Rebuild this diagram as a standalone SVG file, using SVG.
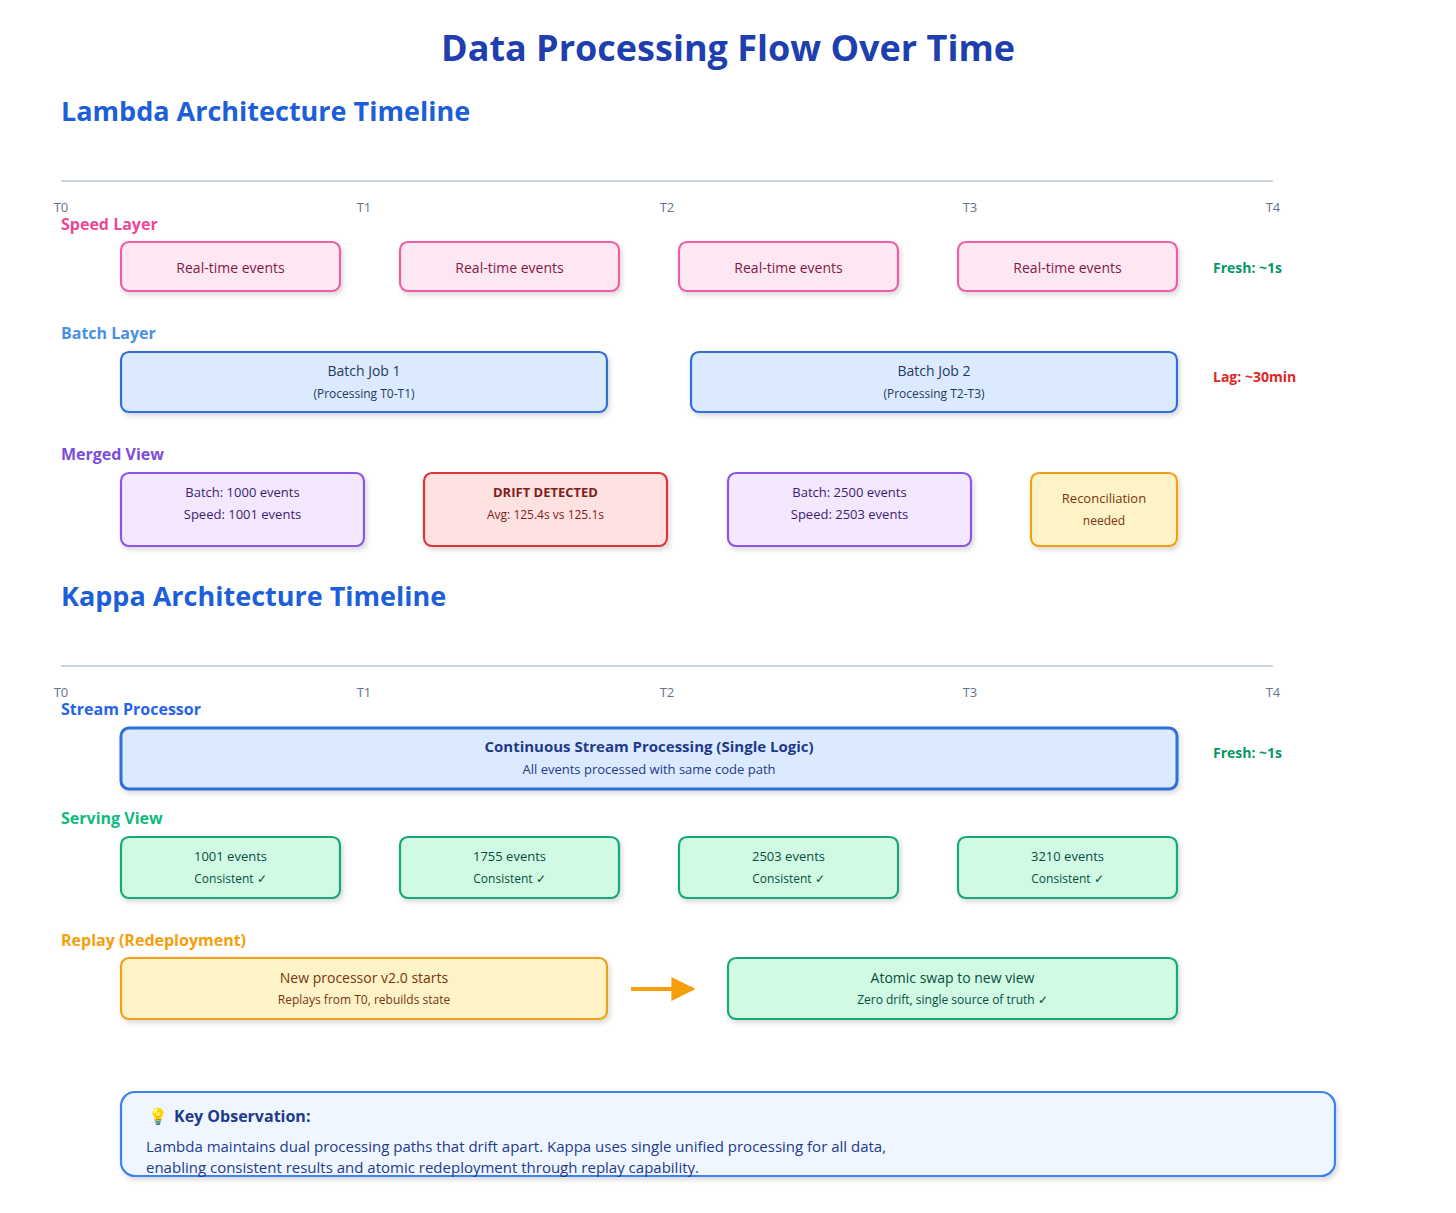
<svg xmlns="http://www.w3.org/2000/svg" width="1456" height="1213" viewBox="0 0 1456 1213">
<defs>
<filter id="sh" x="-10%" y="-20%" width="120%" height="150%"><feDropShadow dx="2" dy="3" stdDeviation="2.5" flood-color="#000" flood-opacity="0.15"/></filter>
<marker id="ah" viewBox="0 0 10 10" refX="9" refY="5" markerWidth="6" markerHeight="6" orient="auto"><path d="M0,0 L10,5 L0,10 z" fill="#f59e0b"/></marker>
<style>
text{font-family:"Open Sans","Noto Sans","Liberation Sans",sans-serif}
.h1{font-size:36px;font-weight:700;fill:#1e40af}
.h2{font-size:27px;font-weight:700;fill:#1d5fd8}
.tick{font-size:13px;fill:#64748b}
.lab{font-size:16px;font-weight:700}
.axis{stroke:#cbd5e1;stroke-width:2}
.b{stroke-width:2.2;filter:url(#sh)}
.pink{fill:#fce7f3;stroke:#ec5fa5}
.blue{fill:#dbeafe;stroke:#2f6fd6}
.purp{fill:#f3e8ff;stroke:#8b55e6}
.red{fill:#fee2e2;stroke:#dc3535}
.yel{fill:#fef3c7;stroke:#f0a015}
.grn{fill:#d1fae5;stroke:#16a874}
.t{font-size:14px;text-anchor:middle}
.s{font-size:12px;text-anchor:middle}
.m{font-size:13px;text-anchor:middle}
</style>
</defs>
<text x="728" y="61" class="h1" text-anchor="middle">Data Processing Flow Over Time</text>
<text x="61" y="121" class="h2">Lambda Architecture Timeline</text>
<line x1="61" y1="181" x2="1273" y2="181" class="axis"/>
<g class="tick" text-anchor="middle"><text x="61" y="212">T0</text><text x="364" y="212">T1</text><text x="667" y="212">T2</text><text x="970" y="212">T3</text><text x="1273" y="212">T4</text></g>
<text x="61" y="230" class="lab" fill="#ec4899">Speed Layer</text>
<g id="speed1"><rect x="121" y="242" width="219" height="49" rx="8" class="b pink"/><text x="230.5" y="273" class="t" fill="#831843">Real-time events</text></g>
<g id="speed2"><rect x="400" y="242" width="219" height="49" rx="8" class="b pink"/><text x="509.5" y="273" class="t" fill="#831843">Real-time events</text></g>
<g id="speed3"><rect x="679" y="242" width="219" height="49" rx="8" class="b pink"/><text x="788.5" y="273" class="t" fill="#831843">Real-time events</text></g>
<g id="speed4"><rect x="958" y="242" width="219" height="49" rx="8" class="b pink"/><text x="1067.5" y="273" class="t" fill="#831843">Real-time events</text></g>
<text x="1213" y="273" font-size="14" font-weight="700" fill="#059669">Fresh: ~1s</text>
<text x="61" y="339" class="lab" fill="#4a90e2">Batch Layer</text>
<g id="batch1"><rect x="121" y="352" width="486" height="60" rx="8" class="b blue"/><text x="364" y="376" class="t" fill="#1e3a5f">Batch Job 1</text><text x="364" y="398" class="s" fill="#1e3a5f">(Processing T0-T1)</text></g>
<g id="batch2"><rect x="691" y="352" width="486" height="60" rx="8" class="b blue"/><text x="934" y="376" class="t" fill="#1e3a5f">Batch Job 2</text><text x="934" y="398" class="s" fill="#1e3a5f">(Processing T2-T3)</text></g>
<text x="1213" y="382" font-size="14" font-weight="700" fill="#dc2626">Lag: ~30min</text>
<text x="61" y="460" class="lab" fill="#7c4ddc">Merged View</text>
<g id="m1"><rect x="121" y="473" width="243" height="73" rx="8" class="b purp"/><text x="242.5" y="497" class="m" fill="#3b1d6e">Batch: 1000 events</text><text x="242.5" y="519" class="m" fill="#3b1d6e">Speed: 1001 events</text></g>
<g id="m2"><rect x="424" y="473" width="243" height="73" rx="8" class="b red"/><text x="545.5" y="497" class="m" font-weight="700" fill="#7f1d1d">DRIFT DETECTED</text><text x="545.5" y="519" class="s" fill="#7f1d1d">Avg: 125.4s vs 125.1s</text></g>
<g id="m3"><rect x="728" y="473" width="243" height="73" rx="8" class="b purp"/><text x="849.5" y="497" class="m" fill="#3b1d6e">Batch: 2500 events</text><text x="849.5" y="519" class="m" fill="#3b1d6e">Speed: 2503 events</text></g>
<g id="m4"><rect x="1031" y="473" width="146" height="73" rx="8" class="b yel"/><text x="1104" y="503" class="m" fill="#78350f">Reconciliation</text><text x="1104" y="525" class="s" fill="#78350f">needed</text></g>
<text x="61" y="606" class="h2">Kappa Architecture Timeline</text>
<line x1="61" y1="666" x2="1273" y2="666" class="axis"/>
<g class="tick" text-anchor="middle"><text x="61" y="697">T0</text><text x="364" y="697">T1</text><text x="667" y="697">T2</text><text x="970" y="697">T3</text><text x="1273" y="697">T4</text></g>
<text x="61" y="715" class="lab" fill="#2563eb">Stream Processor</text>
<g id="stream"><rect x="121" y="728" width="1056" height="61" rx="8" class="blue" stroke-width="3" filter="url(#sh)"/><text x="649" y="752" font-size="15" font-weight="700" text-anchor="middle" fill="#1e3a8a">Continuous Stream Processing (Single Logic)</text><text x="649" y="774" class="m" fill="#1e3a8a">All events processed with same code path</text></g>
<text x="1213" y="758" font-size="14" font-weight="700" fill="#059669">Fresh: ~1s</text>
<text x="61" y="824" class="lab" fill="#10b981">Serving View</text>
<g id="s1"><rect x="121" y="837" width="219" height="61" rx="8" class="b grn"/><text x="230.5" y="861" class="m" fill="#064e3b">1001 events</text><text x="230.5" y="883" class="s" fill="#064e3b">Consistent ✓</text></g>
<g id="s2"><rect x="400" y="837" width="219" height="61" rx="8" class="b grn"/><text x="509.5" y="861" class="m" fill="#064e3b">1755 events</text><text x="509.5" y="883" class="s" fill="#064e3b">Consistent ✓</text></g>
<g id="s3"><rect x="679" y="837" width="219" height="61" rx="8" class="b grn"/><text x="788.5" y="861" class="m" fill="#064e3b">2503 events</text><text x="788.5" y="883" class="s" fill="#064e3b">Consistent ✓</text></g>
<g id="s4"><rect x="958" y="837" width="219" height="61" rx="8" class="b grn"/><text x="1067.5" y="861" class="m" fill="#064e3b">3210 events</text><text x="1067.5" y="883" class="s" fill="#064e3b">Consistent ✓</text></g>
<text x="61" y="946" class="lab" fill="#f59e0b">Replay (Redeployment)</text>
<g id="r1"><rect x="121" y="958" width="486" height="61" rx="8" class="b yel"/><text x="364" y="983" class="t" fill="#78350f">New processor v2.0 starts</text><text x="364" y="1004" class="s" fill="#78350f">Replays from T0, rebuilds state</text></g>
<g id="r2"><rect x="728" y="958" width="449" height="61" rx="8" class="b grn"/><text x="952.5" y="983" class="t" fill="#064e3b">Atomic swap to new view</text><text x="952.5" y="1004" class="s" fill="#064e3b">Zero drift, single source of truth ✓</text></g>
<g id="connectors"><line x1="631" y1="989" x2="693" y2="989" stroke="#f59e0b" stroke-width="4" marker-end="url(#ah)"/></g>
<g id="note"><rect x="121" y="1092" width="1214" height="84" rx="14" fill="#eff6ff" stroke="#3b82f6" stroke-width="2.2" filter="url(#sh)"/>
<text x="148" y="1122" font-size="16" font-family="Noto Color Emoji,sans-serif">💡</text>
<text x="174" y="1122" font-size="16" font-weight="700" fill="#1e3a8a">Key Observation:</text>
<text x="146" y="1152" font-size="15" fill="#1e3a8a">Lambda maintains dual processing paths that drift apart. Kappa uses single unified processing for all data,</text>
<text x="146" y="1173" font-size="15" fill="#1e3a8a">enabling consistent results and atomic redeployment through replay capability.</text></g>
</svg>
